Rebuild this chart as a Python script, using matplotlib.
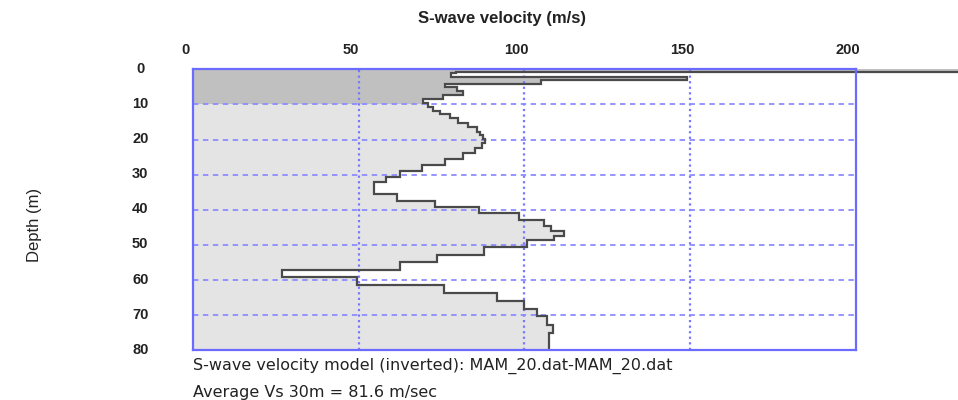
import numpy as np
import matplotlib
matplotlib.use("Agg")
import matplotlib.pyplot as plt
import matplotlib.transforms as mtransforms

# Layer boundaries (depth, m) and S-wave velocity of each layer (m/s)
depth_edges = [0, 0.7, 1.1, 2.2, 3.0, 4.1, 5.1, 6.3, 7.4, 8.5, 9.7, 10.6, 11.8,
               12.7, 14.0, 15.4, 16.5, 17.8, 18.7, 19.9, 20.9, 22.5, 23.9, 25.6,
               27.2, 28.9, 30.8, 32.2, 35.5, 37.4, 39.1, 41.0, 42.9, 44.5, 46.0,
               47.5, 48.6, 50.7, 52.9, 54.8, 57.1, 59.2, 61.4, 63.6, 65.9, 68.1,
               70.2, 72.8, 75.2, 80.0]
velocity = [400, 79.4, 77.8, 149, 105, 76, 79.8, 81.6, 75.5, 69.3, 71, 72.5,
            74.5, 77.6, 80, 83, 85.6, 86.6, 87.6, 88.0, 87.1, 85.1, 81.6, 76,
            69, 62.5, 58.2, 54.6, 61.5, 73, 86.3, 98.5, 106, 108, 112, 109,
            100.7, 87.8, 73.7, 62.4, 26.8, 49.6, 75.8, 91.6, 99.9, 103.7, 106.7,
            108.5, 107.3]
shallow_limit = 10  # depth of darker-shaded zone

x_ticks = [0, 50, 100, 150, 200]
y_ticks = [0, 10, 20, 30, 40, 50, 60, 70, 80]
title = "S-wave velocity (m/s)"
ylabel = "Depth (m)"
note1 = "S-wave velocity model (inverted): MAM_20.dat-MAM_20.dat"
note2 = "Average Vs 30m = 81.6 m/sec"

plt.rcParams['font.family'] = ['Liberation Sans', 'DejaVu Sans']

fig = plt.figure(figsize=(9.58, 4.0), dpi=100)
ax = fig.add_axes([193/958, 1-350.3/400, (855.7-193)/958, (350.3-69.3)/400])

edges = np.array(depth_edges, dtype=float)
vals = np.array(velocity, dtype=float)
# split at the shallow-zone limit for the two fill shades
if shallow_limit not in edges:
    i = np.searchsorted(edges, shallow_limit)
    edges = np.insert(edges, i, shallow_limit)
    vals = np.insert(vals, i - 1, vals[i - 1])
k = int(np.where(edges == shallow_limit)[0][0])

s1 = ax.stairs(vals[:k], edges[:k+1], orientation='horizontal', fill=True,
               color='#c0c0c0', baseline=0, zorder=1)
s2 = ax.stairs(vals[k:], edges[k:], orientation='horizontal', fill=True,
               color='#e4e4e4', baseline=0, zorder=1)
s1.set_clip_on(False)
line = ax.stairs(vals, edges, orientation='horizontal', fill=False,
                 color='#4a4a4a', linewidth=1.6, baseline=None, zorder=4)
line.set_clip_on(False)

gcol = '#7777ff'
for xv in x_ticks[1:-1]:
    ax.axvline(xv, color=gcol, linestyle=(0, (1, 1.5)), linewidth=1.6, zorder=3)
for yv in y_ticks[1:-1]:
    ax.axhline(yv, color='#8c8cff', linestyle=(0, (3, 2.5)), linewidth=1.3, zorder=3)

ax.set_xlim(x_ticks[0], x_ticks[-1])
ax.set_ylim(y_ticks[-1], y_ticks[0])
ax.xaxis.tick_top()
ax.set_xticks(x_ticks)
ax.set_yticks(y_ticks)
ax.tick_params(axis='both', length=0, labelsize=10.5, colors='#222222')
ax.tick_params(axis='x', pad=8.5)
ax.tick_params(axis='y', pad=38)
shift_x = mtransforms.ScaledTranslation(-8/100, 0, fig.dpi_scale_trans)
shift_y = mtransforms.ScaledTranslation(0, 2/100, fig.dpi_scale_trans)
for lab in ax.get_xticklabels():
    lab.set_fontweight('bold')
    lab.set_transform(lab.get_transform() + shift_x)
for lab in ax.get_yticklabels():
    lab.set_fontweight('bold')
    lab.set_horizontalalignment('center')
    lab.set_transform(lab.get_transform() + shift_y)
for sp in ax.spines.values():
    sp.set_color('#6b6bff')
    sp.set_linewidth(1.6)
    sp.set_zorder(5)

fig.text(502/958, 1-18/400, title, ha='center', va='center', fontsize=12,
         fontweight='bold', color='#222222')
fig.text(35/958, 1-225/400, ylabel, ha='center', va='center', rotation=90,
         fontsize=12, color='#222222',
         family=['Liberation Sans Narrow', 'Liberation Sans', 'DejaVu Sans'])
fig.text(193/958, 1-366/400, note1, ha='left', va='center', fontsize=11.5,
         color='#222222', family=['DejaVu Sans'])
fig.text(193/958, 1-392/400, note2, ha='left', va='center', fontsize=11.5,
         color='#222222', family=['DejaVu Sans'])

fig.savefig("out.png", dpi=100)
